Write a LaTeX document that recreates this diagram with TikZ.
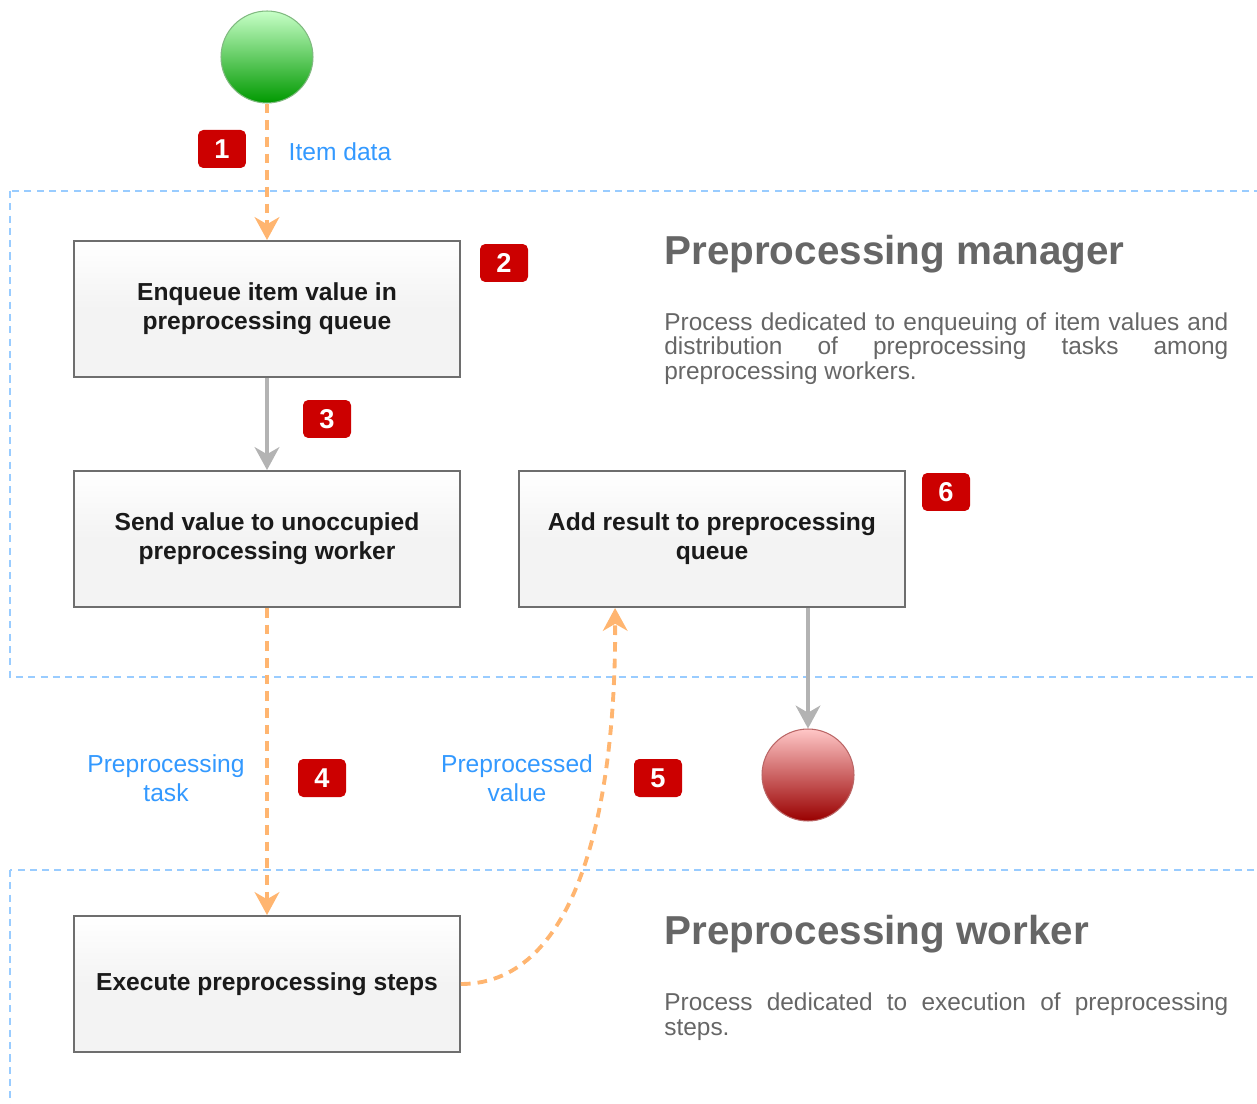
\documentclass[tikz,border=0pt]{standalone}
\usepackage{fontspec}
\setmainfont{Liberation Sans}
\usetikzlibrary{arrows.meta,calc,positioning}
\definecolor{flowblue}{HTML}{3399FF}
\definecolor{laneblue}{HTML}{99CCFF}
\definecolor{floworange}{HTML}{FFB570}
\definecolor{arrowgrey}{HTML}{B3B3B3}
\definecolor{badgered}{HTML}{CC0000}
\definecolor{titlegrey}{HTML}{666666}
\definecolor{boxgrey}{HTML}{F3F3F3}
\definecolor{boxline}{HTML}{6E6E6E}
\definecolor{boxtext}{HTML}{1A1A1A}
\newcommand{\nohyph}{\hyphenpenalty=10000\relax\exhyphenpenalty=10000\relax}

\begin{document}
\begin{tikzpicture}[x=0.02cm,y=-0.02cm,
  procbox/.style={draw=boxline, line width=1.1pt, top color=white, bottom color=boxgrey, middle color=boxgrey,
    minimum width=7.72cm, minimum height=2.72cm, align=center, inner sep=0pt,
    font=\fontsize{14}{16.4}\selectfont\bfseries, text=boxtext},
  badge/.style={fill=badgered, rounded corners=3pt, minimum width=0.96cm, minimum height=0.76cm,
    inner sep=0pt, text=white, font=\fontsize{15.5}{15.5}\selectfont\bfseries},
  flowlabel/.style={text=flowblue, align=center, inner sep=0pt, font=\fontsize{14}{16.4}\selectfont},
  lanetitle/.style={anchor=base west, inner sep=0pt, text=titlegrey, font=\fontsize{23}{23}\selectfont\bfseries},
  lanedesc/.style={anchor=north west, inner sep=0pt, text width=321pt, align=justify, text=titlegrey,
    font=\fontsize{13.9}{14.2}\selectfont\nohyph},
  lane/.style={draw=laneblue, line width=1pt, dash pattern=on 4pt off 3pt},
  dataflow/.style={draw=floworange, line width=2.2pt, dash pattern=on 5.5pt off 4pt,
    -{Stealth[length=13pt,width=14pt,inset=4pt]}},
  ctrlflow/.style={draw=arrowgrey, line width=2.2pt, -{Stealth[length=13pt,width=14pt,inset=4pt]}},
  endpoint/.style={circle, minimum size=1.84cm, inner sep=0pt, line width=0.6pt}
]
\useasboundingbox (0,0) rectangle (1257,1104);

% swimlanes
\begin{scope}
\clip (0,0) rectangle (1257,1104);
\draw[lane] (10,191) rectangle (1275,677);
\draw[lane] (10,870) rectangle (1275,1125);
\end{scope}

% lane texts
\node[lanetitle] (mgrtitle) at (664,265) {Preprocessing manager};
\node[lanedesc] (mgrdesc) at (664,312) {Process dedicated to enqueuing of item values and\linebreak distribution of preprocessing tasks among\linebreak preprocessing workers.};
\node[lanetitle] (wrktitle) at (664,944) {Preprocessing worker};
\node[lanedesc] (wrkdesc) at (664,992) {Process dedicated to execution of preprocessing steps.};

% start and stop
\node[endpoint, draw=green!45!black!50, top color=green!22!white, bottom color=green!60!black] (start) at (267,57) {};
\node[endpoint, draw=red!55!black!60, top color=red!22!white, bottom color=red!60!black] (stop) at (808,775) {};

% steps
\node[procbox] (enqueue) at (267,309) {Enqueue item value in\\preprocessing queue};
\node[procbox] (send) at (267,539) {Send value to unoccupied\\preprocessing worker};
\node[procbox] (addres) at (712,539) {Add result to preprocessing\\queue};
\node[procbox] (execute) at (267,984) {Execute preprocessing steps};

% badges
\node[badge] (b1) at (222,149) {1};
\node[badge] (b2) at (504,263) {2};
\node[badge] (b3) at (327,419) {3};
\node[badge] (b4) at (322,778) {4};
\node[badge] (b5) at (658,778) {5};
\node[badge] (b6) at (946,492) {6};

% flow labels
\node[flowlabel] (litem) at (340,152) {Item data};
\node[flowlabel] (ltask) at (166,778) {Preprocessing\\task};
\node[flowlabel] (lvalue) at (517,778) {Preprocessed\\value};

% connectors
\coordinate (resin) at ($(addres.south west)+(97,0)$);
\draw[dataflow] (start) -- (enqueue);
\draw[ctrlflow] (enqueue) -- (send);
\draw[dataflow] (send) -- (execute);
\draw[dataflow] (execute.east) .. controls (580,984) and (616,800) .. (resin);
\draw[ctrlflow] (stop |- addres.south) -- (stop.north);
\end{tikzpicture}
\end{document}
